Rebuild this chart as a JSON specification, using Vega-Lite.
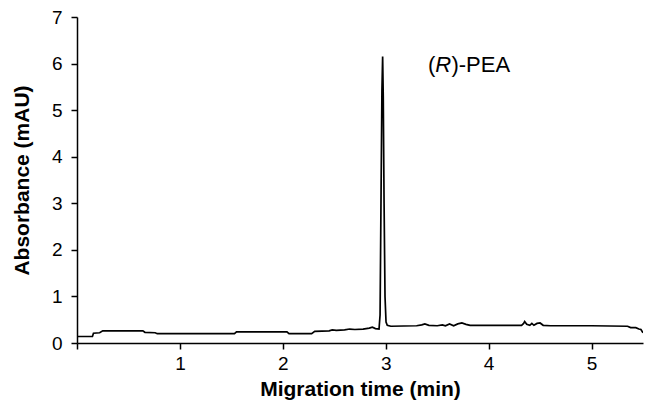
{
  "$schema": "https://vega.github.io/schema/vega-lite/v6.json",
  "width": 566,
  "height": 326,
  "autosize": {"type": "none"},
  "padding": {"left": 77, "top": 17, "right": 2, "bottom": 62},
  "background": "white",
  "config": {
    "view": {"stroke": null},
    "font": "Liberation Sans",
    "axis": {
      "grid": false,
      "domainColor": "black",
      "domainWidth": 1.5,
      "tickColor": "black",
      "tickWidth": 1.5,
      "tickSize": 6,
      "labelColor": "black",
      "labelFont": "Liberation Sans",
      "labelFontSize": 19,
      "titleColor": "black",
      "titleFont": "Liberation Sans",
      "titleFontSize": 21,
      "titleFontWeight": "bold"
    }
  },
  "datasets": {
    "trace": [
      {"t": 0.00, "a": 0.14}, {"t": 0.15, "a": 0.14}, {"t": 0.16, "a": 0.21}, {"t": 0.22, "a": 0.22},
      {"t": 0.25, "a": 0.26}, {"t": 0.64, "a": 0.26}, {"t": 0.66, "a": 0.23}, {"t": 0.76, "a": 0.22},
      {"t": 0.78, "a": 0.20}, {"t": 1.53, "a": 0.20}, {"t": 1.55, "a": 0.24}, {"t": 2.04, "a": 0.24},
      {"t": 2.06, "a": 0.20}, {"t": 2.28, "a": 0.20}, {"t": 2.31, "a": 0.25}, {"t": 2.45, "a": 0.26},
      {"t": 2.48, "a": 0.28}, {"t": 2.52, "a": 0.27}, {"t": 2.60, "a": 0.28}, {"t": 2.65, "a": 0.30},
      {"t": 2.70, "a": 0.29}, {"t": 2.78, "a": 0.30}, {"t": 2.84, "a": 0.32}, {"t": 2.87, "a": 0.34},
      {"t": 2.90, "a": 0.31}, {"t": 2.935, "a": 0.30}, {"t": 2.945, "a": 0.6}, {"t": 2.955, "a": 3.3},
      {"t": 2.963, "a": 5.4}, {"t": 2.970, "a": 6.15}, {"t": 2.976, "a": 5.3}, {"t": 2.984, "a": 3.0},
      {"t": 2.993, "a": 1.0}, {"t": 3.003, "a": 0.45}, {"t": 3.015, "a": 0.38}, {"t": 3.05, "a": 0.36},
      {"t": 3.30, "a": 0.37}, {"t": 3.35, "a": 0.39}, {"t": 3.38, "a": 0.41}, {"t": 3.42, "a": 0.38},
      {"t": 3.50, "a": 0.37}, {"t": 3.55, "a": 0.39}, {"t": 3.58, "a": 0.37}, {"t": 3.62, "a": 0.41},
      {"t": 3.66, "a": 0.37}, {"t": 3.70, "a": 0.41}, {"t": 3.74, "a": 0.43}, {"t": 3.78, "a": 0.40},
      {"t": 3.82, "a": 0.38}, {"t": 4.32, "a": 0.38}, {"t": 4.34, "a": 0.42}, {"t": 4.35, "a": 0.46},
      {"t": 4.37, "a": 0.40}, {"t": 4.40, "a": 0.38}, {"t": 4.42, "a": 0.42}, {"t": 4.44, "a": 0.38},
      {"t": 4.47, "a": 0.42}, {"t": 4.50, "a": 0.43}, {"t": 4.53, "a": 0.38}, {"t": 4.60, "a": 0.37},
      {"t": 5.00, "a": 0.37}, {"t": 5.35, "a": 0.36}, {"t": 5.38, "a": 0.33}, {"t": 5.43, "a": 0.33},
      {"t": 5.46, "a": 0.30}, {"t": 5.48, "a": 0.29}, {"t": 5.50, "a": 0.22}
    ],
    "label": [{"t": 3.41, "a": 5.97}]
  },
  "layer": [
    {
      "data": {"name": "trace"},
      "mark": {"type": "line", "color": "black", "strokeWidth": 1.7, "clip": true},
      "encoding": {
        "x": {
          "field": "t", "type": "quantitative",
          "scale": {"domain": [0, 5.5], "nice": false, "zero": false},
          "axis": {
            "title": "Migration time (min)",
            "values": [0, 1, 2, 3, 4, 5],
            "format": "d",
            "labelExpr": "datum.value == 0 ? '' : datum.label",
            "labelPadding": 5,
            "titlePadding": 5
          }
        },
        "y": {
          "field": "a", "type": "quantitative",
          "scale": {"domain": [0, 7], "nice": false},
          "axis": {
            "title": "Absorbance (mAU)",
            "values": [0, 1, 2, 3, 4, 5, 6, 7],
            "format": "d",
            "labelPadding": 9,
            "titlePadding": 19
          }
        }
      }
    },
    {
      "data": {"name": "label"},
      "mark": {"type": "text", "text": "(", "align": "left", "baseline": "middle", "fontSize": 22, "color": "black"},
      "encoding": {"x": {"field": "t", "type": "quantitative"}, "y": {"field": "a", "type": "quantitative"}}
    },
    {
      "data": {"name": "label"},
      "mark": {"type": "text", "text": "R", "align": "left", "baseline": "middle", "fontSize": 22, "fontStyle": "italic", "color": "black", "dx": 7.3},
      "encoding": {"x": {"field": "t", "type": "quantitative"}, "y": {"field": "a", "type": "quantitative"}}
    },
    {
      "data": {"name": "label"},
      "mark": {"type": "text", "text": ")-PEA", "align": "left", "baseline": "middle", "fontSize": 22, "color": "black", "dx": 23.5},
      "encoding": {"x": {"field": "t", "type": "quantitative"}, "y": {"field": "a", "type": "quantitative"}}
    }
  ]
}
